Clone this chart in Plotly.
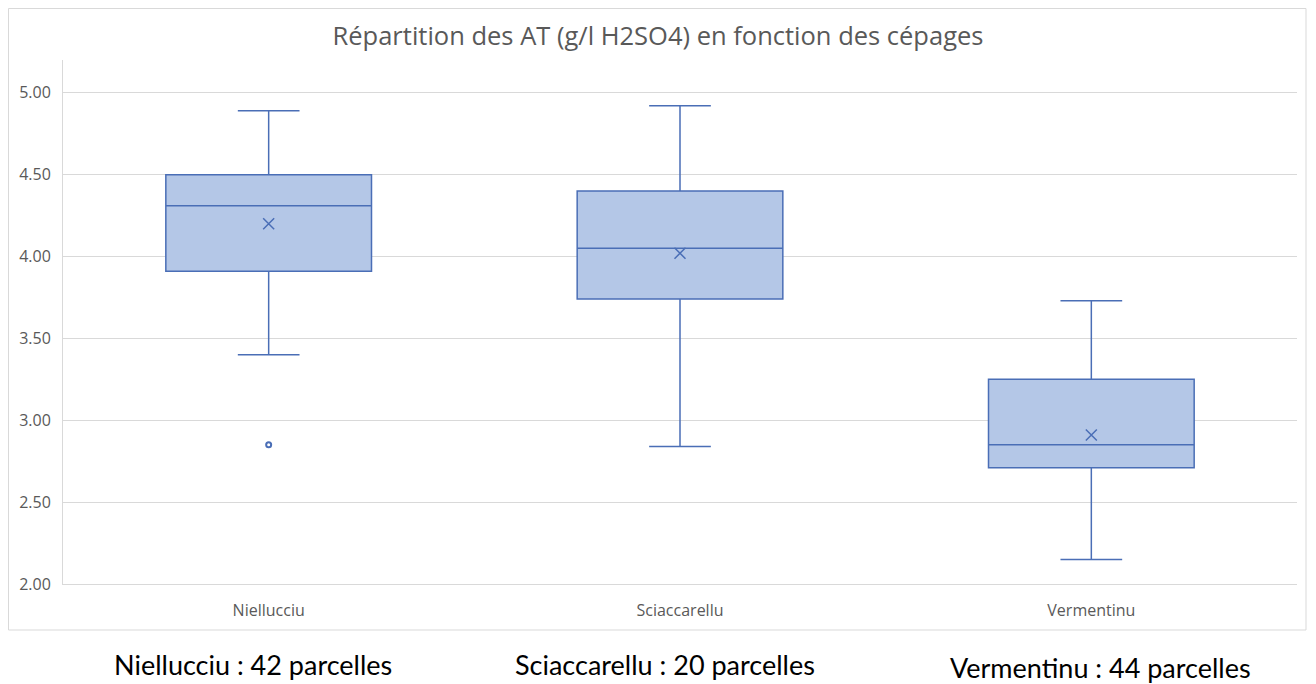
import plotly.graph_objects as go

categories = ["Niellucciu", "Sciaccarellu", "Vermentinu"]
q1 = [3.91, 3.74, 2.71]
median = [4.31, 4.05, 2.85]
q3 = [4.50, 4.40, 3.25]
lower = [3.40, 2.84, 2.15]
upper = [4.89, 4.92, 3.73]
means = [4.20, 4.02, 2.91]
outlier_cat = ["Niellucciu"]
outlier_val = [2.85]
counts_text = ["Niellucciu : 42 parcelles", "Sciaccarellu : 20 parcelles", "Vermentinu : 44 parcelles"]
y_ticks = [2.0, 2.5, 3.0, 3.5, 4.0, 4.5, 5.0]

LINE = "#4A6EB6"
FILL = "#B4C7E7"
CHART_FONT = "Open Sans, Lato, sans-serif"

fig = go.Figure()
fig.add_trace(go.Box(
    x=categories, q1=q1, median=median, q3=q3,
    lowerfence=lower, upperfence=upper,
    fillcolor=FILL, line=dict(color=LINE, width=1.5),
    whiskerwidth=0.3, width=0.5, boxpoints=False, showlegend=False,
))
fig.add_trace(go.Scatter(
    x=categories, y=means, mode="markers",
    marker=dict(symbol="x-thin-open", size=11, line=dict(color=LINE, width=1.5), color=LINE),
    showlegend=False,
))
fig.add_trace(go.Scatter(
    x=outlier_cat, y=outlier_val, mode="markers",
    marker=dict(symbol="circle-open", size=5, line=dict(color=LINE, width=2), color=LINE),
    showlegend=False,
))

# page has an 8px body margin, so the figure is sized to fit the window
W, H = 1308, 676
L, R, T, B = 55, 19, 52, 100
pw, ph = W - L - R, H - T - B

shapes = [dict(type="rect", xref="paper", yref="paper",
               x0=(0.5 - L) / pw, x1=(1298 - L) / pw,
               y0=(H - B - 622) / ph, y1=(H - B - 0.5) / ph,
               line=dict(color="#D9D9D9", width=1), fillcolor="rgba(0,0,0,0)", layer="below")]

annotations = []
centers_px = [245, 657, 1092]
centers_py = [656, 656, 659]
for txt, cx, cy in zip(counts_text, centers_px, centers_py):
    annotations.append(dict(text=txt, xref="paper", yref="paper",
                            x=(cx - L) / pw, y=(H - B - cy) / ph,
                            xanchor="center", yanchor="middle", showarrow=False,
                            font=dict(family="Lato, Open Sans, sans-serif", size=27, color="#000000")))

fig.update_layout(
    width=W, height=H,
    margin=dict(l=L, r=R, t=T, b=B),
    paper_bgcolor="white", plot_bgcolor="white",
    title=dict(text="Répartition des AT (g/l H2SO4) en fonction des cépages",
               x=650 / W, xanchor="center", y=1 - 28 / H, yanchor="middle",
               font=dict(family=CHART_FONT, size=25.5, color="#595959")),
    shapes=shapes, annotations=annotations,
    font=dict(family=CHART_FONT, color="#595959"),
)
fig.update_yaxes(range=[2.0, 5.2], tickvals=y_ticks, tickformat=".2f",
                 showgrid=True, gridcolor="#D9D9D9", gridwidth=1,
                 showline=True, linecolor="#D9D9D9", linewidth=1,
                 zeroline=False, ticks="", tickfont=dict(size=16, color="#595959"),
                 ticklabelstandoff=8)
fig.update_xaxes(range=[-0.5, 2.5], showline=True, linecolor="#D9D9D9", linewidth=1, showgrid=False,
                 ticks="", tickfont=dict(size=16, color="#595959"),
                 ticklabelstandoff=12)

fig.write_html("out.html")
